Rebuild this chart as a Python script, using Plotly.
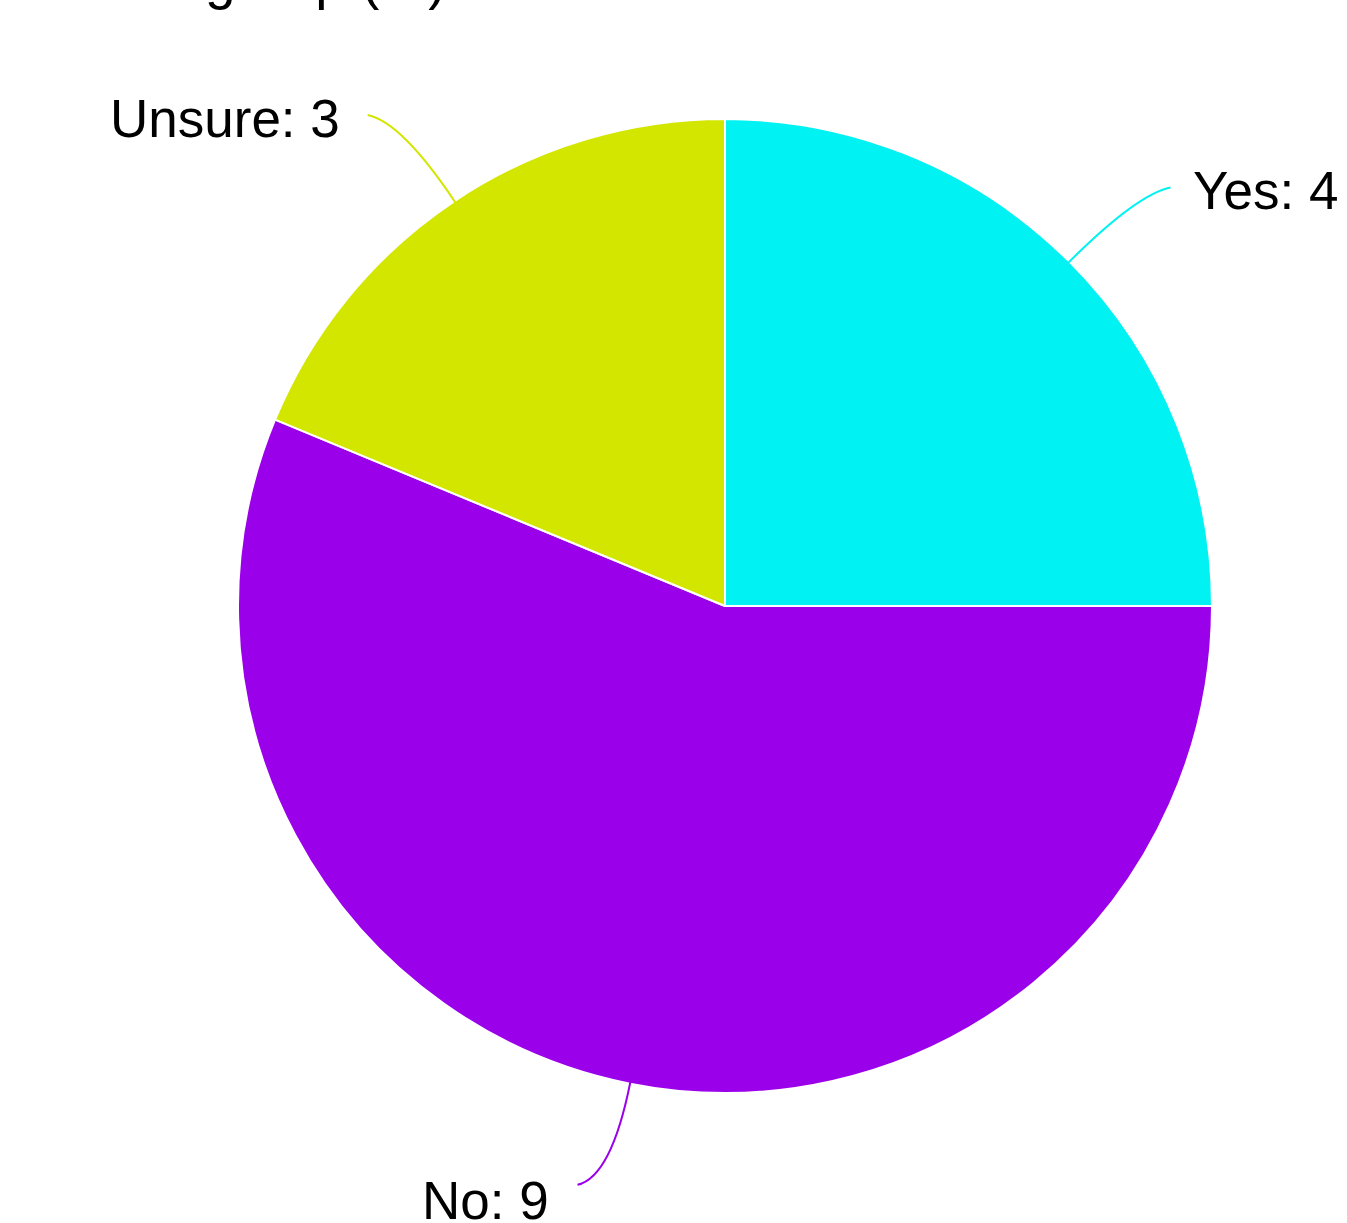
import math
import plotly.graph_objects as go

# Survey answers
labels = ["Yes", "No", "Unsure"]
counts = [4, 9, 3]
colors = ["#00F2F2", "#9B00EA", "#D3E600"]
title_text = "Focus group (%)"

W, H = 1347, 1223
cx, cy, r = 725, 606, 487  # pie centre and radius in pixels

fig = go.Figure()

fig.add_trace(go.Pie(
    labels=labels,
    values=counts,
    sort=False,
    direction="clockwise",
    rotation=0,
    marker=dict(colors=colors, line=dict(color="white", width=2)),
    textinfo="none",
    hoverinfo="label+value",
    showlegend=False,
    domain=dict(x=[(cx - r) / W, (cx + r) / W],
                y=[1 - (cy + r) / H, 1 - (cy - r) / H]),
))

# Outside labels with curved leader lines, placed at each slice's mid angle
total = sum(counts)
shapes, annotations = [], []
start = 0.0
for lab, val, col in zip(labels, counts, colors):
    mid = start + val / total * 360 / 2
    start += val / total * 360
    a = math.radians(mid)
    dx, dy = math.sin(a), -math.cos(a)
    p0 = (cx + (r - 2) * dx, cy + (r - 2) * dy)
    c1 = (cx + (r + 95) * dx, cy + (r + 95) * dy)
    side = 1 if dx >= 0 else -1
    p2 = (c1[0] + side * 34, c1[1] + (8 if dy > 0 else -7))
    shapes.append(dict(
        type="path", xref="x", yref="y",
        path=f"M {p0[0]:.1f},{p0[1]:.1f} Q {c1[0]:.1f},{c1[1]:.1f} {p2[0]:.1f},{p2[1]:.1f}",
        line=dict(color=col, width=2),
    ))
    if dy > 0.8:
        lx, ly, anchor = p2[0] - 26, p2[1] + 16, "right"
    elif side > 0:
        lx, ly, anchor = p2[0] + 20, p2[1] + 3, "left"
    else:
        lx, ly, anchor = p2[0] - 26, p2[1] + 3, "right"
    annotations.append(dict(
        x=lx, y=ly, xref="x", yref="y", text=f"{lab}: {val}",
        showarrow=False, xanchor=anchor, yanchor="middle",
        font=dict(family="Liberation Sans, Arial, sans-serif", size=53, color="black"),
    ))

# Title, mostly above the top of the page
annotations.append(dict(
    x=38, y=12, xref="x", yref="y", text=title_text, showarrow=False,
    xanchor="left", yanchor="bottom",
    font=dict(family="Liberation Sans, Arial, sans-serif", size=55, color="black"),
))

fig.update_layout(
    width=W, height=H,
    margin=dict(l=0, r=0, t=0, b=0),
    paper_bgcolor="white", plot_bgcolor="white",
    xaxis=dict(range=[0, W], visible=False, fixedrange=True),
    yaxis=dict(range=[H, 0], visible=False, fixedrange=True),
    shapes=shapes,
    annotations=annotations,
)

fig.write_html("out.html")
